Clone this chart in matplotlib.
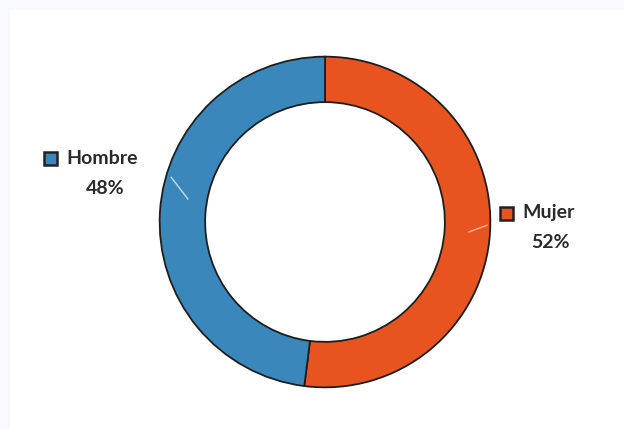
import matplotlib

matplotlib.use("Agg")
import matplotlib.pyplot as plt
from matplotlib.patches import Rectangle

categories = ["Mujer", "Hombre"]
shares = [52, 48]
colors = ["#e8541f", "#3a88bb"]

W, H = 624, 429
fig = plt.figure(figsize=(W / 100, H / 100), dpi=100)
fig.patch.set_facecolor("#f7f9fc")

# white panel inset from the top-left edge, kept behind the donut
fig.patches.append(
    Rectangle((10 / W, 0), 1, 1 - 10 / H, transform=fig.transFigure,
              facecolor="white", edgecolor="none", zorder=-5)
)

cx, cy, r = 325, 222, 167
ax = fig.add_axes([(cx - r) / W, 1 - (cy + r) / H, 2 * r / W, 2 * r / H])
ax.set_aspect("equal")
wedges, _ = ax.pie(
    shares,
    colors=colors,
    startangle=90,
    counterclock=False,
    radius=1.0,
    wedgeprops=dict(width=0.275, edgecolor="#1e1e1e", linewidth=1.3),
)
ax.set_xlim(-1.01, 1.01)
ax.set_ylim(-1.01, 1.01)

# faint leader ticks on the ring
ax.plot([-0.93, -0.83], [0.27, 0.14], color="white", lw=1, alpha=0.7)
ax.plot([0.87, 0.98], [-0.06, -0.02], color="#f6c0a8", lw=1, alpha=0.9)

font = "Lato"
labels = {
    "Hombre": (44, 158, 105, 188),
    "Mujer": (500, 213, 550, 243),
}
for name, share, color in zip(categories, shares, colors):
    sx, ty, px, py = labels[name]
    fig.patches.append(
        Rectangle((sx / W, 1 - (ty + 7) / H), 13 / W, 13 / H, transform=fig.transFigure,
                  facecolor=color, edgecolor="#222222", linewidth=1.8)
    )
    fig.text((sx + 22) / W, 1 - ty / H, name, fontsize=14, family=font, weight="bold",
             color="#2a2a2a", va="center", ha="left")
    fig.text(px / W, 1 - py / H, f"{share}%", fontsize=14, family=font, weight="bold",
             color="#2a2a2a", va="center", ha="center")

fig.savefig("out.png", dpi=100, facecolor=fig.get_facecolor())
